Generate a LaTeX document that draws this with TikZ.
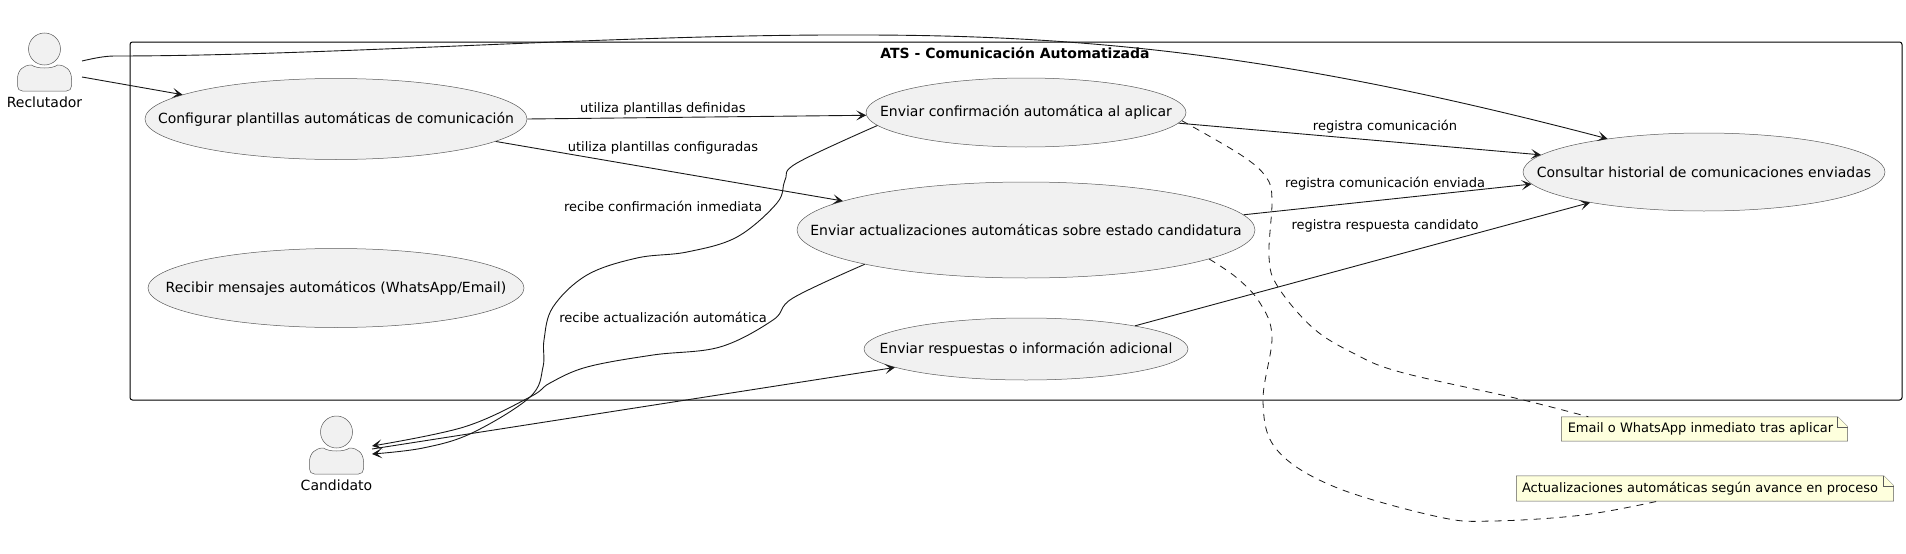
\documentclass[tikz,border=0pt]{standalone}
\usepackage{fontspec}
\setmainfont{DejaVu Sans}
\usepackage{xcolor}
\usetikzlibrary{arrows.meta,calc,backgrounds,shapes.geometric}
\definecolor{ucfill}{HTML}{F1F1F1}
\definecolor{ucline}{HTML}{181818}
\definecolor{ucedge}{HTML}{5A5A5A}
\definecolor{notefill}{HTML}{FEFFDD}
\newcommand{\ucname}[1]{\makebox[0pt]{#1}}

\begin{document}
\begin{tikzpicture}[
  x=1pt, y=-1pt,
  every node/.style={font=\fontsize{14}{16}\selectfont, text=black, inner sep=0pt},
  usecase/.style={ellipse, draw=ucedge, fill=ucfill, line width=0.5pt},
  actorpart/.style={draw=ucedge, fill=ucfill, line width=0.5pt},
  edgelabel/.style={font=\fontsize{13}{15}\selectfont},
  assoc/.style={-{Stealth[length=10pt,width=10pt,inset=5pt]}, line width=0.9pt, draw=ucline},
  notelink/.style={dashed, dash pattern=on 7pt off 6pt, line width=0.8pt, draw=ucline},
  notetext/.style={font=\fontsize{13}{15}\selectfont},
  notepaper/.style={draw=ucedge, fill=notefill, line width=0.5pt},
  actor/.pic={
    \draw[actorpart] (0,-14) circle[x radius=16, y radius=16];
    \draw[actorpart] (-22,28) .. controls (-25,28) and (-27,26) .. (-27,23)
      -- (-27,16) .. controls (-27,7) and (-21,2) .. (-13,2)
      .. controls (-8,6) and (8,6) .. (13,2)
      .. controls (21,2) and (27,7) .. (27,16)
      -- (27,23) .. controls (27,26) and (25,28) .. (22,28) -- cycle;
  }
]
\useasboundingbox (0,0) rectangle (1906,554);
% ---- system frame ----
\node[draw=black, line width=1pt, rounded corners=2.5pt, minimum width=1772pt, minimum height=358pt] (ats) at (1016,221) {};
\node[font=\fontsize{14}{16}\selectfont\bfseries] (atstitle) at (1015,53) {ATS - Comunicación Automatizada};
% ---- use cases ----
\node[usecase, minimum width=382pt, minimum height=81pt] (cfg) at (336,119) {\ucname{Configurar plantillas automáticas de comunicación}};
\node[usecase, minimum width=376pt, minimum height=79pt] (msg) at (336,288) {\ucname{Recibir mensajes automáticos (WhatsApp/Email)}};
\node[usecase, minimum width=320pt, minimum height=69pt] (conf) at (1026,112.5) {\ucname{Enviar confirmación automática al aplicar}};
\node[usecase, minimum width=458pt, minimum height=96pt] (upd) at (1026,230) {\ucname{Enviar actualizaciones automáticas sobre estado candidatura}};
\node[usecase, minimum width=324pt, minimum height=62pt] (resp) at (1026,349) {\ucname{Enviar respuestas o información adicional}};
\node[usecase, minimum width=362pt, minimum height=78pt] (hist) at (1704,172) {\ucname{Consultar historial de comunicaciones enviadas}};
% ---- actors ----
\pic at (44.5,63) {actor};
\node (rec) at (44.5,102) {Reclutador};
\coordinate (recA) at (82,61);
\coordinate (recB) at (82,77);
\pic at (336.5,446) {actor};
\node (cand) at (336.5,485) {Candidato};
\coordinate (candA) at (372,446);
\coordinate (candB) at (372,449);
\coordinate (candC) at (372,454);
% ---- notes ----
\node[notetext, minimum width=286pt, minimum height=24pt] (noteA) at (1704.5,429) {\hspace*{-8pt}Email o WhatsApp inmediato tras aplicar};
\node[notetext, minimum width=377pt, minimum height=25pt] (noteB) at (1705,488.5) {\hspace*{-10pt}Actualizaciones automáticas según avance en proceso};
\begin{scope}[on background layer]
  \foreach \n in {noteA,noteB} {
    \draw[notepaper] (\n.south west) -- (\n.north west) -- ($(\n.north east)+(-10,0)$)
      -- ($(\n.north east)+(0,10)$) -- (\n.south east) -- cycle;
    \draw[notepaper] ($(\n.north east)+(-10,0)$) -- ($(\n.north east)+(-10,10)$) -- ($(\n.north east)+(0,10)$);
  }
\end{scope}
% ---- associations ----
\draw[assoc] (recB) -- (cfg.171);
\draw[assoc] (recA) .. controls (95,58) and (105,56) .. (115,56)
  .. controls (330,56) and (620,34) .. (860,35)
  .. controls (1100,35) and (1300,58) .. (hist.161.4);
\draw[assoc] (cfg.0) -- (conf.181) node[edgelabel, pos=0.4, yshift=9pt] (lblA) {utiliza plantillas definidas};
\draw[assoc] (cfg.-8.9) -- (upd.171.2);
\node[edgelabel] (lblB) at (663,148) {utiliza plantillas configuradas};
\draw[assoc] plot[smooth, tension=0.6] coordinates {(conf.185.7) (797,163) (785,180) (777,203) (737,237) (687,252) (637,258) (587,275) (553,307) (544,340) (543,367) (530,397) (472,433) (423,448) (candC)};
\node[edgelabel] (lblC) at (663,206) {recibe confirmación inmediata};
\draw[assoc] plot[smooth, tension=0.6] coordinates {(upd.192.5) (793,298) (773,320) (720,347) (653,355) (587,367) (550,383) (530,397) (464,427) (candA)};
\node[edgelabel] (lblD) at (663,317) {recibe actualización automática};
\draw[assoc] (candB) -- (resp.188.2);
\draw[assoc] (conf.-4.8) -- (hist.174.9);
\node[edgelabel] (lblE) at (1385,127) {registra comunicación};
\draw[assoc] (upd.4.8) -- (hist.184.8);
\node[edgelabel] (lblF) at (1385,183.5) {registra comunicación enviada};
\draw[assoc] (resp.12.8) -- (hist.195.7);
\node[edgelabel] (lblG) at (1385,226) {registra respuesta candidato};
% ---- note links ----
\draw[notelink] plot[smooth, tension=0.6] coordinates {(conf.-3.95) (1241,155) (1266,177) (1272,200) (1269,257) (1278,287) (1313,328) (1353,353) (1400,372) (1515,398) (noteA.174)};
\draw[notelink] plot[smooth, tension=0.6] coordinates {(upd.-9.9) (1237,278) (1260,303) (1272,337) (1263,402) (1277,450) (1335,487) (1439,517) (1493,521) (1583,515) (noteB.195.3)};
\end{tikzpicture}
\end{document}
